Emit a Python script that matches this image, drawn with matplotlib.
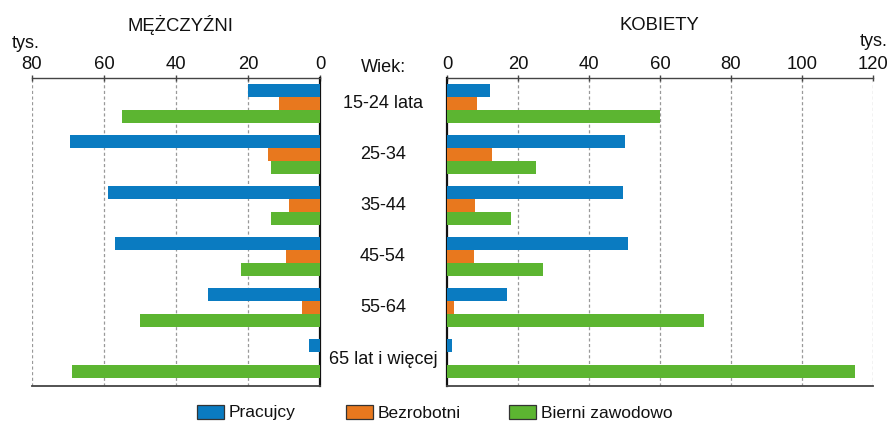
import matplotlib
matplotlib.use("Agg")
import matplotlib.pyplot as plt
import numpy as np
from matplotlib.patches import Rectangle

plt.rcParams['font.family'] = ['Liberation Sans', 'DejaVu Sans']

ages = ["15-24 lata", "25-34", "35-44", "45-54", "55-64", "65 lat i więcej"]
series = ["Pracujcy", "Bezrobotni", "Bierni zawodowo"]
colors = ["#0a7bc1", "#e8781e", "#5cb531"]

men_working = [20, 69.5, 59, 57, 31, 3]
men_unemployed = [11.5, 14.5, 8.5, 9.5, 5, 0]
men_inactive = [55, 13.5, 13.5, 22, 50, 69]

women_working = [12, 50, 49.5, 51, 17, 1.5]
women_unemployed = [8.5, 12.8, 8, 7.5, 2, 0]
women_inactive = [60, 25, 18, 27, 72.3, 115]

men_ticks = [0, 20, 40, 60, 80]
women_ticks = [0, 20, 40, 60, 80, 100, 120]

W, H = 891, 428
fig = plt.figure(figsize=(W / 100, H / 100), dpi=100)

def px_axes(x0, x1, ytop, ybot):
    return fig.add_axes([x0 / W, (H - ybot) / H, (x1 - x0) / W, (ybot - ytop) / H])

axL = px_axes(32, 320, 78, 386)
axR = px_axes(447, 873, 78, 386)

y = np.arange(len(ages))
bh = 0.255
offsets = [-bh, 0, bh]

men = [men_working, men_unemployed, men_inactive]
women = [women_working, women_unemployed, women_inactive]

TXT = '#111111'

for ax, data, ticks, xmax in [(axL, men, men_ticks, 80), (axR, women, women_ticks, 120)]:
    for vals, off, c in zip(data, offsets, colors):
        ax.barh(y + off, vals, height=bh, color=c, edgecolor='none', zorder=3)
    ax.set_ylim(5.53, -0.49)
    ax.set_xlim(0, xmax)
    ax.set_xticks(ticks)
    ax.xaxis.tick_top()
    ax.tick_params(axis='x', direction='inout', length=5, width=1, color='#444444',
                   labelsize=13.3, pad=1, labelcolor=TXT)
    ax.set_yticks([])
    for t in ticks:
        if t != 0:
            ax.axvline(t, color='#999999', linestyle=(0, (2.5, 2)), linewidth=0.9, zorder=1)
    ax.spines['top'].set_color('#444444')
    ax.spines['top'].set_linewidth(1.0)
    ax.spines['bottom'].set_color('#444444')
    ax.spines['bottom'].set_linewidth(1.3)

axL.invert_xaxis()
axL.spines['left'].set_visible(False)
axL.spines['right'].set_color('#111111')
axL.spines['right'].set_linewidth(1.6)
axR.spines['right'].set_visible(False)
axR.spines['left'].set_color('#111111')
axR.spines['left'].set_linewidth(1.6)

# age labels in the middle
for i, lab in enumerate(ages):
    yy = 103 + 51.2 * i
    fig.text(383 / W, 1 - yy / H, lab, ha='center', va='center', fontsize=13, color=TXT)
fig.text(383 / W, 1 - 67 / H, "Wiek:", ha='center', va='center', fontsize=13, color=TXT)

fig.text(180 / W, 1 - 25 / H, "MĘŻCZYŹNI", ha='center', va='center', fontsize=13.3, color=TXT)
fig.text(659 / W, 1 - 25 / H, "KOBIETY", ha='center', va='center', fontsize=13.3, color=TXT)
fig.text(12 / W, 1 - 44 / H, "tys.", ha='left', va='center', fontsize=13, color=TXT)
fig.text(888 / W, 1 - 42 / H, "tys.", ha='right', va='center', fontsize=13, color=TXT)

# legend
leg_x = [197, 346, 509]
for lx, lab, c in zip(leg_x, series, colors):
    fig.patches.append(Rectangle((lx / W, 1 - 419 / H), 27 / W, 14 / H, transform=fig.transFigure,
                                 facecolor=c, edgecolor='#333333', linewidth=0.9))
    fig.text((lx + 32) / W, 1 - 413 / H, lab, ha='left', va='center', fontsize=12.5, color=TXT)

fig.savefig("out.png", dpi=100)
